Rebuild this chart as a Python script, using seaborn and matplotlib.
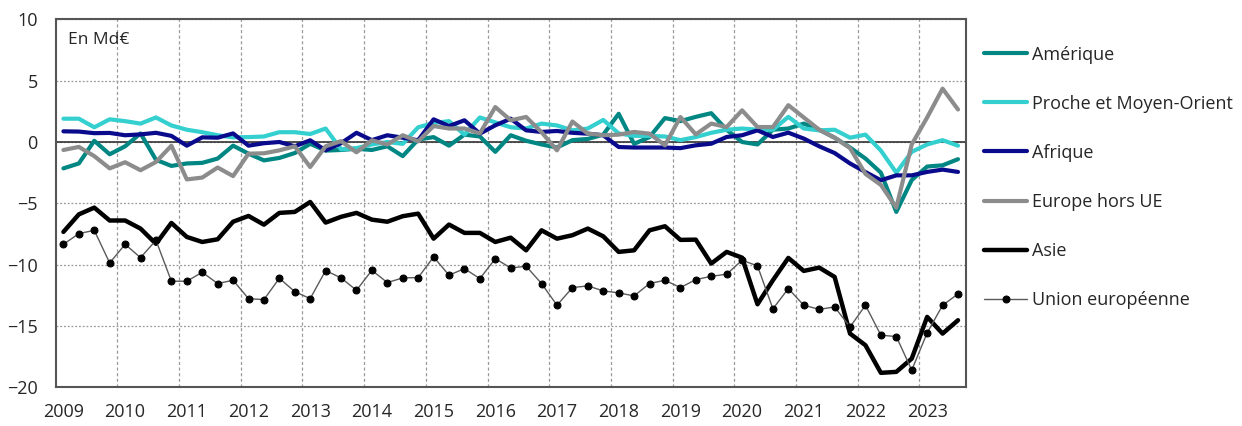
import numpy as np
import pandas as pd
import matplotlib
matplotlib.use("Agg")
import matplotlib.pyplot as plt
import seaborn as sns

# quarterly data, 2009 Q1 -> 2023 Q3
years = list(range(2009, 2024))
n_quarters = 59

amerique = [-2.15, -1.75, 0.1, -1.0, -0.35, 0.7, -1.45, -1.95, -1.75, -1.7, -1.35, -0.3, -0.95, -1.5, -1.3,
            -0.9, -0.15, -0.7, -0.65, -0.55, -0.65, -0.35, -1.15, 0.2, 0.4, -0.3, 0.6, 0.45, -0.8, 0.55,
            0.1, -0.2, -0.45, 0.15, 0.25, 0.6, 2.3, -0.15, 0.4, 1.95, 1.7, 2.05, 2.35, 1.0, 0.0,
            -0.2, 1.0, 1.1, 1.5, 1.0, 0.35, -0.45, -1.35, -2.5, -5.7, -3.1, -2.0, -1.9, -1.4]
proche_mo = [1.9, 1.9, 1.2, 1.85, 1.7, 1.5, 2.0, 1.35, 1.0, 0.8, 0.55, 0.38, 0.4, 0.45, 0.8,
             0.8, 0.65, 1.1, -0.6, -0.5, -0.2, 0.0, -0.15, 1.2, 1.55, 1.7, 0.6, 2.0, 1.6, 1.2,
             1.1, 1.5, 1.35, 0.95, 1.1, 1.8, 0.7, 0.5, 0.5, 0.45, 0.15, 0.4, 0.75, 1.0, 1.1,
             1.0, 1.0, 2.05, 1.1, 0.95, 1.0, 0.35, 0.6, -0.7, -2.5, -0.8, -0.2, 0.15, -0.3]
afrique = [0.87, 0.85, 0.72, 0.74, 0.55, 0.62, 0.75, 0.5, -0.3, 0.38, 0.35, 0.7, -0.3, -0.1, 0.0,
           -0.35, 0.14, -0.68, -0.1, 0.75, 0.15, 0.55, 0.35, 0.14, 1.85, 1.3, 1.77, 0.68, 1.36, 1.9,
           0.95, 0.82, 0.9, 0.75, 0.68, 0.55, -0.41, -0.45, -0.45, -0.45, -0.5, -0.27, -0.14, 0.41, 0.55,
           0.95, 0.41, 0.76, 0.28, -0.35, -0.9, -1.75, -2.45, -3.12, -2.72, -2.72, -2.44, -2.25, -2.44]
europe_hors_ue = [-0.65, -0.4, -1.15, -2.15, -1.65, -2.3, -1.63, -0.3, -3.05, -2.9, -2.08, -2.78, -0.95, -0.92, -0.68,
                  -0.35, -2.04, -0.35, 0.07, -0.84, 0.14, -0.2, 0.55, 0.05, 1.3, 1.1, 1.1, 0.7, 2.85, 1.77,
                  2.04, 0.8, -0.68, 1.67, 0.68, 0.55, 0.6, 0.82, 0.68, -0.27, 2.04, 0.62, 1.5, 1.22, 2.58,
                  1.22, 1.22, 3.0, 2.0, 1.0, 0.35, -0.5, -2.6, -3.5, -5.35, -0.2, 2.0, 4.35, 2.65]
asie = [-7.33, -5.9, -5.35, -6.4, -6.4, -7.06, -8.3, -6.6, -7.74, -8.15, -7.93, -6.5, -6.03, -6.74, -5.78,
        -5.7, -4.89, -6.57, -6.1, -5.78, -6.33, -6.5, -6.05, -5.84, -7.88, -6.73, -7.41, -7.41, -8.15, -7.8,
        -8.83, -7.2, -7.88, -7.6, -7.06, -7.69, -8.96, -8.83, -7.2, -6.87, -7.98, -7.96, -9.91, -8.96, -9.43,
        -13.23, -11.27, -9.45, -10.51, -10.24, -11.0, -15.62, -16.57, -18.82, -18.74, -17.66, -14.26, -15.62, -14.53]
union_europeenne = [-8.34, -7.47, -7.2, -9.86, -8.34, -9.43, -8.01, -11.35, -11.35, -10.62, -11.54, -11.27, -12.77, -12.85, -11.11,
                    -12.2, -12.77, -10.48, -11.08, -12.09, -10.46, -11.46, -11.08, -11.05, -9.37, -10.86, -10.32, -11.14, -9.51, -10.27,
                    -10.13, -11.54, -13.31, -11.87, -11.73, -12.14, -12.3, -12.55, -11.54, -11.27, -11.87, -11.22, -10.95, -10.78, -9.64,
                    -10.1, -13.6, -11.95, -13.31, -13.64, -13.45, -15.08, -13.31, -15.75, -15.86, -18.6, -15.56, -13.31, -12.39]

series = [
    ("Amérique", amerique, "#008784", 3.0),
    ("Proche et Moyen-Orient", proche_mo, "#34CFCF", 3.0),
    ("Afrique", afrique, "#0A0A8C", 3.0),
    ("Europe hors UE", europe_hors_ue, "#8C8C8C", 3.0),
    ("Asie", asie, "#000000", 3.2),
]

sns.set_style("white")
plt.rcParams["font.family"] = ["Open Sans", "DejaVu Sans"]

fig = plt.figure(figsize=(12.42, 4.26), dpi=100)
ax = fig.add_axes([0.04485, 0.0908, 0.7327, 0.8638])

x = np.arange(n_quarters)
for name, vals, col, lw in series:
    sns.lineplot(x=x, y=vals, ax=ax, color=col, linewidth=lw, label=name)
sns.lineplot(x=x, y=union_europeenne, ax=ax, color="#5a5a5a", linewidth=1.0,
             marker="o", markersize=5, markerfacecolor="black", markeredgecolor="black",
             label="Union européenne")

ax.set_xlim(-0.5, n_quarters - 0.5)
ax.set_ylim(-20, 10)
ax.set_yticks(np.arange(-20, 11, 5))
ax.set_xticks(np.arange(0, n_quarters, 4))
ax.set_xticklabels([str(y) for y in years])
ax.set_xticks(np.arange(3.5, n_quarters - 1, 4), minor=True)
ax.tick_params(axis="x", which="both", length=0, pad=11, labelsize=13)
ax.tick_params(axis="y", length=0, pad=13, labelsize=13)

ax.grid(which="minor", axis="x", color="#9a9a9a", linestyle=(0, (2.5, 2)), linewidth=0.9)
ax.grid(which="major", axis="y", color="#9a9a9a", linestyle=(0, (1.5, 1.5)), linewidth=0.9)
ax.grid(which="major", axis="x", visible=False)
ax.set_axisbelow(True)
ax.axhline(0, color="#333333", linewidth=1.2, zorder=1.5)

for s in ax.spines.values():
    s.set_color("#555555")
    s.set_linewidth(1.5)
ax.set_xlabel("")
ax.set_ylabel("")

ax.text(0.013, 0.965, "En Md€", transform=ax.transAxes, ha="left", va="top", fontsize=12.5)

leg = ax.legend(loc="upper left", bbox_to_anchor=(1.012, 0.948), frameon=False,
                fontsize=13, handlelength=2.4, handletextpad=0.25, labelspacing=1.72,
                borderaxespad=0)

fig.savefig("out.png", dpi=100)
